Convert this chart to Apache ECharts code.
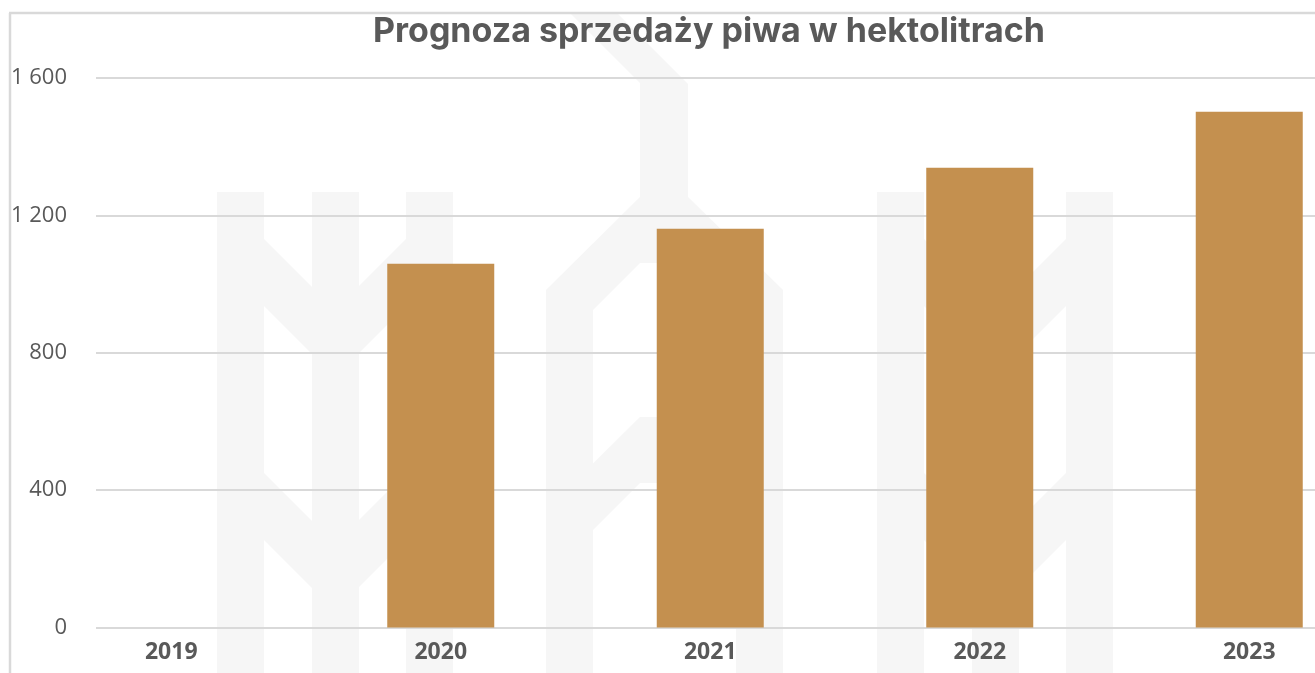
<!DOCTYPE html>
<html>
<head>
    <meta charset="utf-8" />
    <title>Prognoza sprzedaży piwa</title>
    <script src="https://cdn.jsdelivr.net/npm/echarts@6/dist/echarts.min.js"></script>
    <style>
        html, body { margin: 0; padding: 0; background: #fff; }
        #chart { width: 1315px; height: 673px; }
    </style>
</head>
<body>
    <div id="chart"></div>

    <script type="text/javascript">
        // dane
        var years = ['2019', '2020', '2021', '2022', '2023'];
        var sales = [0, 1059, 1161, 1339, 1502];
        var yTicks = [0, 400, 800, 1200, 1600];

        var textGrey = '#595959';
        var lineGrey = '#d9d9d9';
        var wmGrey = '#f6f6f6';

        // "1 600" - spacja jako separator tysięcy
        function fmt(v) {
            return String(v).replace(/\B(?=(\d{3})+(?!\d))/g, ' ');
        }

        // znak wodny w tle (dekoracja)
        var wm = [];
        function rect(x, y) {
            wm.push({ type: 'rect', shape: { x: x, y: y, width: 47, height: 673 - y } });
        }
        function poly(pts) {
            wm.push({ type: 'polygon', shape: { points: pts } });
        }
        [217, 877].forEach(function (ox) {
            rect(ox, 192); rect(ox + 95, 192); rect(ox + 189, 192);
            [0, 234].forEach(function (dy) {
                poly([[ox, 192 + dy], [ox + 118, 310 + dy], [ox + 236, 192 + dy],
                      [ox + 236, 259 + dy], [ox + 118, 377 + dy], [ox, 259 + dy]]);
            });
        });
        rect(546, 290); rect(736, 290);
        [0, 220].forEach(function (dy) {
            poly([[546, 290 + dy], [640, 197 + dy], [688, 197 + dy], [783, 290 + dy],
                  [783, 357 + dy], [688, 263 + dy], [640, 263 + dy], [546, 357 + dy]]);
        });
        poly([[570, 13], [617, 13], [688, 84], [688, 200], [640, 200], [640, 83]]);
        wm.forEach(function (el) {
            el.style = { fill: wmGrey };
            el.z = -10;
            el.silent = true;
        });
        // ramka
        wm.push({ type: 'line', z: -5, shape: { x1: 10, y1: 13, x2: 10, y2: 673 }, style: { stroke: lineGrey, lineWidth: 2.5 } });
        wm.push({ type: 'line', z: -5, shape: { x1: 9, y1: 13, x2: 1315, y2: 13 }, style: { stroke: lineGrey, lineWidth: 2.5 } });

        var myChart = echarts.init(document.getElementById('chart'));

        myChart.setOption({
            animation: false,
            backgroundColor: '#fff',
            title: {
                text: 'Prognoza sprzedaży piwa w hektolitrach',
                left: 704,
                top: 10,
                textAlign: 'center',
                textStyle: {
                    fontFamily: 'Inter',
                    fontWeight: 'bold',
                    fontSize: 34,
                    color: textGrey
                }
            },
            graphic: wm,
            grid: [{
                // słupki - obszar wychodzi poza prawą krawędź
                left: 36.5,
                width: 1347.5,
                top: 78,
                height: 549.5,
                outerBoundsMode: 'none'
            }, {
                // linie siatki i etykiety osi Y
                left: 96,
                right: 0,
                top: 78,
                height: 549.5,
                outerBoundsMode: 'none'
            }],
            xAxis: [{
                type: 'category',
                gridIndex: 0,
                data: years,
                axisLine: { show: false },
                axisTick: { show: false },
                axisLabel: {
                    margin: 13,
                    fontFamily: 'Open Sans',
                    fontWeight: 'bold',
                    fontSize: 23,
                    color: textGrey
                }
            }, {
                type: 'category',
                gridIndex: 1,
                data: years,
                show: false
            }],
            yAxis: [{
                type: 'value',
                gridIndex: 0,
                min: yTicks[0],
                max: yTicks[yTicks.length - 1],
                interval: yTicks[1] - yTicks[0],
                show: false
            }, {
                type: 'value',
                gridIndex: 1,
                min: yTicks[0],
                max: yTicks[yTicks.length - 1],
                interval: yTicks[1] - yTicks[0],
                axisLine: { show: false },
                axisTick: { show: false },
                axisLabel: {
                    margin: 29,
                    fontFamily: 'Open Sans',
                    fontSize: 22,
                    color: textGrey,
                    formatter: fmt
                },
                splitLine: {
                    lineStyle: { color: lineGrey, width: 2 }
                }
            }],
            series: [{
                name: 'Sprzedaż (hl)',
                type: 'bar',
                xAxisIndex: 0,
                yAxisIndex: 0,
                barWidth: 107,
                itemStyle: { color: '#c4904f' },
                data: sales
            }]
        });
    </script>
</body>
</html>
